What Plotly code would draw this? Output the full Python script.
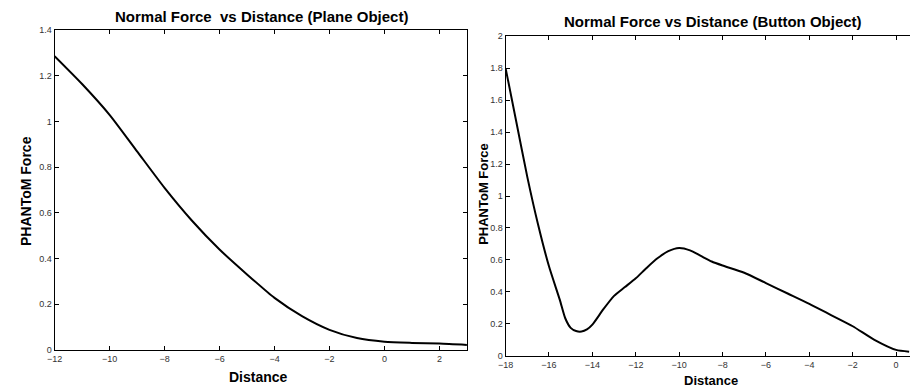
import plotly.graph_objects as go

W, H = 910, 392

# ---- data ----
plane_distance = [-12, -11, -10, -9, -8, -7, -6, -5, -4, -3, -2, -1, 0, 1, 2, 3]
plane_force = [1.287, 1.165, 1.03, 0.87, 0.71, 0.566, 0.44, 0.331, 0.228, 0.148,
               0.088, 0.052, 0.036, 0.031, 0.028, 0.022]

button_distance = [-18, -17.5, -17, -16.5, -16, -15.5, -15.25, -15, -14.75, -14.5, -14.25,
                   -14, -13.5, -13, -12.5, -12, -11.5, -11, -10.5, -10, -9.5, -9, -8.5,
                   -8, -7, -6, -5, -4, -3, -2, -1, 0, 0.6]
button_force = [1.80, 1.46, 1.12, 0.82, 0.56, 0.35, 0.235, 0.175, 0.155, 0.152, 0.165,
                0.195, 0.29, 0.375, 0.43, 0.485, 0.55, 0.61, 0.655, 0.675, 0.66, 0.625,
                0.59, 0.565, 0.52, 0.455, 0.39, 0.325, 0.255, 0.185, 0.10, 0.037, 0.026]

plane_title = "Normal Force  vs Distance (Plane Object)"
button_title = "Normal Force vs Distance (Button Object)"
x_label = "Distance"
y_label = "PHANToM Force"


def px(x):
    return x / W


def py(y):
    return 1 - y / H


FONT = "Liberation Sans, Arial, sans-serif"

fig = go.Figure()
fig.add_trace(go.Scatter(x=plane_distance, y=plane_force, mode="lines",
                         line=dict(color="black", width=2, shape="spline", smoothing=0.6),
                         xaxis="x", yaxis="y", showlegend=False, hoverinfo="x+y"))
fig.add_trace(go.Scatter(x=button_distance, y=button_force, mode="lines",
                         line=dict(color="black", width=2, shape="spline", smoothing=0.6),
                         xaxis="x2", yaxis="y2", showlegend=False, hoverinfo="x+y"))

axis_common = dict(showgrid=False, zeroline=False, showline=True, linecolor="black",
                   linewidth=1, ticks="inside", ticklen=4, tickwidth=1, tickcolor="black",
                   tickfont=dict(family=FONT, size=9, color="#333333"))

fig.update_layout(
    width=W, height=H,
    margin=dict(l=0, r=0, t=0, b=0),
    paper_bgcolor="white", plot_bgcolor="white",
    xaxis=dict(domain=[px(47), px(463)], range=[-12, 3], dtick=2, tick0=0,
               mirror="ticks", anchor="y", **axis_common),
    yaxis=dict(domain=[py(354), py(26)], range=[0, 1.4], dtick=0.2, tick0=0,
               mirror="ticks", anchor="x", **axis_common),
    xaxis2=dict(domain=[px(502), 1.0], range=[-18, 0.64], dtick=2, tick0=0,
                mirror="ticks", anchor="y2", **axis_common),
    yaxis2=dict(domain=[py(360), py(32)], range=[0, 2], dtick=0.2, tick0=0,
                mirror=False, anchor="x2", **axis_common),
    annotations=[
        dict(text="<b>%s</b>" % plane_title, x=px(256), y=py(12), xref="paper", yref="paper",
             showarrow=False, xanchor="center", yanchor="middle",
             font=dict(family=FONT, size=15, color="black")),
        dict(text="<b>%s</b>" % button_title, x=px(711), y=py(17), xref="paper", yref="paper",
             showarrow=False, xanchor="center", yanchor="middle",
             font=dict(family=FONT, size=15, color="black")),
        dict(text="<b>%s</b>" % x_label, x=px(253), y=py(382), xref="paper", yref="paper",
             showarrow=False, xanchor="center", yanchor="middle",
             font=dict(family=FONT, size=14, color="black")),
        dict(text="<b>%s</b>" % x_label, x=px(709), y=py(385), xref="paper", yref="paper",
             showarrow=False, xanchor="center", yanchor="middle",
             font=dict(family=FONT, size=13, color="black")),
        dict(text="<b>%s</b>" % y_label, x=px(18), y=py(191), xref="paper", yref="paper",
             showarrow=False, xanchor="center", yanchor="middle", textangle=-90,
             font=dict(family=FONT, size=14, color="black")),
        dict(text="<b>%s</b>" % y_label, x=px(479), y=py(194), xref="paper", yref="paper",
             showarrow=False, xanchor="center", yanchor="middle", textangle=-90,
             font=dict(family=FONT, size=13, color="black")),
    ],
)

post = (
    "document.documentElement.style.margin='0';"
    "document.documentElement.style.padding='0';"
    "document.documentElement.style.overflow='hidden';"
    "document.body.style.margin='0';"
    "document.body.style.padding='0';"
    "document.body.style.overflow='hidden';"
    "var gd=document.getElementById('{plot_id}');"
    "gd.style.position='fixed';gd.style.left='0px';gd.style.top='0px';"
)

fig.write_html("out.html", config={"displayModeBar": False}, post_script=post)
